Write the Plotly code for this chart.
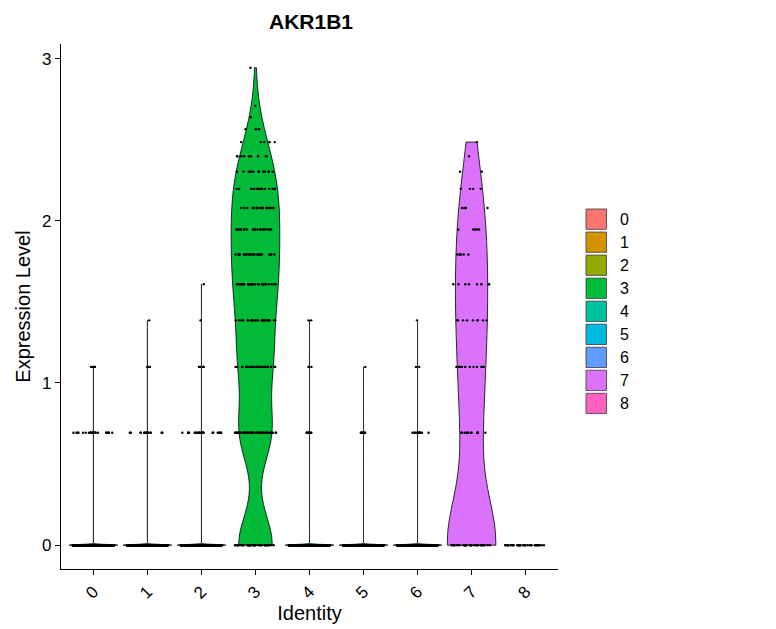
import numpy as np
import plotly.graph_objects as go

# ---------------- data ----------------
cluster_ids = ["0", "1", "2", "3", "4", "5", "6", "7", "8"]
cluster_colors = ["#F8766D", "#D39200", "#93AA00", "#00BA38", "#00C19F",
                  "#00B9E3", "#619CFF", "#DB72FB", "#FF61C3"]

# discrete expression levels observed in the picture
expr_levels = [0.0, 0.693, 1.099, 1.386, 1.609, 1.792, 1.946, 2.079, 2.197,
               2.303, 2.398, 2.485, 2.565, 2.639, 2.708, 2.944]

# number of cells at each level, per cluster
counts_c0 = [600, 28, 5, 0, 0, 0, 0, 0, 0, 0, 0, 0, 0, 0, 0, 0]
counts_c1 = [500, 16, 4, 1, 0, 0, 0, 0, 0, 0, 0, 0, 0, 0, 0, 0]
counts_c2 = [450, 26, 5, 1, 1, 0, 0, 0, 0, 0, 0, 0, 0, 0, 0, 0]
counts_c3 = [50, 45, 38, 30, 30, 26, 21, 20, 17, 14, 10, 6, 4, 1, 1, 1]
counts_c4 = [400, 9, 3, 2, 0, 0, 0, 0, 0, 0, 0, 0, 0, 0, 0, 0]
counts_c5 = [400, 10, 1, 0, 0, 0, 0, 0, 0, 0, 0, 0, 0, 0, 0, 0]
counts_c6 = [350, 13, 2, 1, 0, 0, 0, 0, 0, 0, 0, 0, 0, 0, 0, 0]
counts_c7 = [40, 12, 11, 9, 8, 6, 5, 4, 4, 2, 1, 1, 0, 0, 0, 0]
counts_c8 = [45, 0, 0, 0, 0, 0, 0, 0, 0, 0, 0, 0, 0, 0, 0, 0]

all_counts = [counts_c0, counts_c1, counts_c2, counts_c3, counts_c4,
              counts_c5, counts_c6, counts_c7, counts_c8]

# kernel bandwidth per cluster (mostly-zero clusters collapse to a line)
bandwidths = [0.004, 0.004, 0.004, 0.19, 0.004, 0.004, 0.004, 0.30, 0.004]

y_ticks = [0, 1, 2, 3]

FONT = "Liberation Sans, Arial, Helvetica, sans-serif"

fig = go.Figure()
for cid, col, cnt, bw in zip(cluster_ids, cluster_colors, all_counts, bandwidths):
    vals = np.repeat(np.array(expr_levels), np.array(cnt))
    single_value = len(set(vals.tolist())) == 1
    fig.add_trace(go.Violin(
        x=[cid] * len(vals), y=vals, name=cid,
        fillcolor="rgba(0,0,0,0)" if single_value else col,
        line=dict(color="black", width=0 if single_value else 0.8),
        points="all", jitter=0.85, pointpos=0,
        marker=dict(color="black", size=2.4),
        bandwidth=bw, spanmode="hard", width=0.9, scalemode="width",
        box_visible=False, meanline_visible=False, showlegend=False,
        hoverinfo="skip",
    ))

# ---------------- layout ----------------
W, H = 776, 629
ML, MR, MT, MB = 61, 218, 44, 60
plot_w = W - ML - MR
plot_h = H - MT - MB

def px_x(px):
    return (px - ML) / plot_w

def px_y(py):
    return (H - MB - py) / plot_h

shapes = []
annotations = []
# legend (custom square keys)
key_left, key_right = 586, 606.5
key_top0, key_pitch, key_size = 209, 23.04, 20.3
for i, (cid, col) in enumerate(zip(cluster_ids, cluster_colors)):
    top = key_top0 + i * key_pitch
    shapes.append(dict(type="rect", xref="paper", yref="paper",
                       x0=px_x(key_left), x1=px_x(key_right),
                       y0=px_y(top + key_size), y1=px_y(top),
                       fillcolor=col, line=dict(color="#3a3a3a", width=0.8)))
    annotations.append(dict(xref="paper", yref="paper", x=px_x(618), y=px_y(top + key_size / 2),
                            text=cid, showarrow=False, xanchor="left", yanchor="middle",
                            font=dict(family=FONT, size=16, color="black")))

fig.update_layout(
    width=W, height=H,
    margin=dict(l=ML, r=MR, t=MT, b=MB, autoexpand=False),
    paper_bgcolor="white", plot_bgcolor="white",
    violinmode="overlay", violingap=0,
    showlegend=False,
    title=dict(text="<b>AKR1B1</b>", x=px_x(311), xref="paper", xanchor="center",
               y=1 - 22 / H, yref="container", yanchor="middle",
               font=dict(family=FONT, size=21, color="black")),
    font=dict(family=FONT, color="black"),
    shapes=shapes, annotations=annotations,
)

fig.update_xaxes(
    type="category", categoryorder="array", categoryarray=cluster_ids,
    range=[-0.6, 8.6], showline=True, linecolor="black", linewidth=1.1,
    ticks="outside", ticklen=5, tickcolor="black", tickwidth=1.1,
    tickangle=-45, tickfont=dict(family=FONT, size=17, color="black"),
    showgrid=False, zeroline=False, automargin=False,
    title=dict(text="Identity", font=dict(family=FONT, size=20, color="black"), standoff=3),
)
fig.update_yaxes(
    range=[-0.147, 3.09], tickvals=y_ticks, ticktext=[str(t) for t in y_ticks],
    showline=True, linecolor="black", linewidth=1.1,
    ticks="outside", ticklen=5, tickcolor="black", tickwidth=1.1,
    tickfont=dict(family=FONT, size=17, color="black"),
    showgrid=False, zeroline=False, automargin=False,
    title=dict(text="Expression Level", font=dict(family=FONT, size=20, color="black"), standoff=6),
)

fig.write_html("out.html")
